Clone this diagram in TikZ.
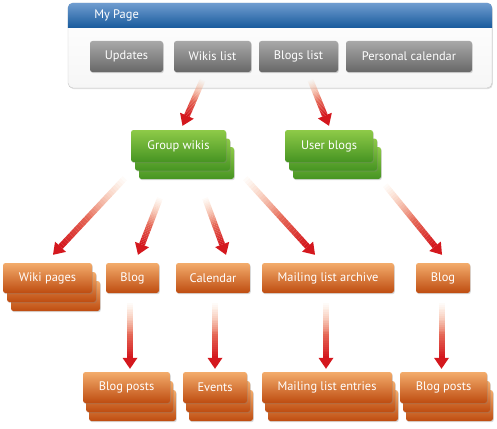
\documentclass[tikz,border=0pt]{standalone}
\usepackage{fontspec}
\setmainfont{PT Sans}
\usetikzlibrary{arrows.meta, positioning, calc, shadows}

\definecolor{headtop}{RGB}{112,157,208}
\definecolor{headbot}{RGB}{24,90,156}
\definecolor{graytop}{RGB}{168,168,168}
\definecolor{graybot}{RGB}{104,104,104}
\definecolor{greentop}{RGB}{142,202,72}
\definecolor{greenbot}{RGB}{70,148,34}
\definecolor{orangetop}{RGB}{243,172,108}
\definecolor{orangebot}{RGB}{190,76,16}
\definecolor{arrowred}{RGB}{212,24,30}
\definecolor{arrowpeach}{RGB}{246,180,140}

\tikzset{
  box/.style={rounded corners=2.5pt, minimum height=31pt, inner sep=0pt, text=white,
    font=\fontsize{12.4}{14}\selectfont,
    drop shadow={opacity=0.3, shadow xshift=0.8pt, shadow yshift=-1.2pt}},
  graybtn/.style={box, top color=graytop, bottom color=graybot},
  greenbox/.style={box, minimum height=32pt, top color=greentop, bottom color=greenbot},
  orangebox/.style={box, minimum height=30pt, top color=orangetop, bottom color=orangebot},
  panel/.style={draw=gray!45, rounded corners=5pt, top color=white, bottom color=gray!7,
    drop shadow={opacity=0.25, shadow xshift=0.8pt, shadow yshift=-1.2pt}}
}

% faded arrow: light at the start, red head at the end
\newcommand{\fadearrow}[2]{%
  \coordinate (fa-end) at ($(#2)!11pt!(#1)$);
  \foreach \i in {0,...,29}{%
    \pgfmathsetmacro{\mixp}{100*(\i/29)^1.3}
    \pgfmathsetmacro{\opac}{min(1,0.06+1.6*\i/29)}
    \draw[line width=6pt, draw=arrowred!\mixp!arrowpeach, draw opacity=\opac]
      ($(#1)!\i/30!(fa-end)$) -- ($(#1)!\i/30+1/30!(fa-end)$);
  }
  \fill[arrowred] (#2) -- ($(fa-end)!7.5pt!90:(#2)$) -- ($(fa-end)!7.5pt!-90:(#2)$) -- cycle;
}

\begin{document}
\begin{tikzpicture}[x=1pt, y=-1pt]
    \useasboundingbox (0,0) rectangle (497,428);

    % My Page panel
    \node[panel, minimum width=424pt, minimum height=85pt] (page) at (280,45.5) {};
    \shade[top color=headtop, bottom color=headbot]
        ($(page.north west)+(0,25)$) [rounded corners=5pt] -- (page.north west)
        -- (page.north east) [sharp corners] -- ($(page.north east)+(0,25)$) -- cycle;
    \node[anchor=west, text=white, font=\fontsize{12.4}{14}\selectfont] (title)
        at ($(page.north west)+(23,12.5)$) {My Page};

    % Buttons
    \node[graybtn, minimum width=73pt] (updates) at (126.5,56.5) {Updates};
    \node[graybtn, minimum width=77pt] (wikis) at (212.5,56.5) {Wikis list};
    \node[graybtn, minimum width=79pt] (blogs) at (298.5,56.5) {Blogs list};
    \node[graybtn, minimum width=126pt] (pcal) at (409,56.5) {Personal calendar};

    % Green stacks
    \foreach \k in {2,1} {
        \node[greenbox, minimum width=95pt] (gwikis\k) at ($(178.5,146)+(4*\k,8.5*\k)$) {};
        \node[greenbox, minimum width=88pt] (ublogs\k) at ($(329,146)+(4*\k,8.5*\k)$) {};
    }
    \node[greenbox, minimum width=95pt] (gwikis) at (178.5,146) {Group wikis};
    \node[greenbox, minimum width=88pt] (ublogs) at (329,146) {User blogs};

    % Orange row
    \foreach \k in {2,1} {
        \node[orangebox, minimum width=89pt] (wpages\k) at ($(47.5,278)+(4*\k,9*\k)$) {};
    }
    \node[orangebox, minimum width=89pt] (wpages) at (47.5,278) {Wiki pages};
    \node[orangebox, minimum width=53pt] (blog) at (132.5,278) {Blog};
    \node[orangebox, minimum width=74pt] (calendar) at (213,278) {Calendar};
    \node[orangebox, minimum width=132pt] (archive) at (328,278) {Mailing list archive};
    \node[orangebox, minimum width=54pt] (ublog) at (443,278) {Blog};

    % Bottom row
    \foreach \k in {2,1} {
        \node[orangebox, minimum height=31pt, minimum width=87pt] (posts\k) at ($(126.5,387.5)+(3*\k,9*\k)$) {};
        \node[orangebox, minimum height=31pt, minimum width=64pt] (events\k) at ($(215,387.5)+(3*\k,9*\k)$) {};
        \node[orangebox, minimum height=31pt, minimum width=130pt] (entries\k) at ($(327,387.5)+(3*\k,9*\k)$) {};
        \node[orangebox, minimum height=31pt, minimum width=87pt] (uposts\k) at ($(443.5,387.5)+(3*\k,9*\k)$) {};
    }
    \node[orangebox, minimum height=31pt, minimum width=87pt] (posts) at (126.5,387.5) {Blog posts};
    \node[orangebox, minimum height=31pt, minimum width=64pt] (events) at (215,387.5) {Events};
    \node[orangebox, minimum height=31pt, minimum width=130pt] (entries) at (327,387.5) {Mailing list entries};
    \node[orangebox, minimum height=31pt, minimum width=87pt] (uposts) at (443.5,387.5) {Blog posts};

    % Arrow ends
    \coordinate (w-from) at ($(wikis.south)+(-10,8)$);
    \coordinate (w-to) at ($(gwikis.north)+(4,-4)$);
    \coordinate (b-from) at ($(blogs.south)+(12,8)$);
    \coordinate (b-to) at ($(ublogs.north)+(0,-4)$);
    \coordinate (g1-from) at ($(gwikis.south west)+(-6,16)$);
    \coordinate (g1-to) at ($(wpages.north)+(5.5,-8)$);
    \coordinate (g2-from) at ($(gwikis.south)+(-18.5,36)$);
    \coordinate (g2-to) at ($(blog.north)+(5.5,-8)$);
    \coordinate (g3-from) at ($(gwikis.south)+(26.5,36)$);
    \coordinate (g3-to) at ($(calendar.north)+(13,-8)$);
    \coordinate (g4-from) at ($(gwikis.south east)+(19,16)$);
    \coordinate (g4-to) at ($(archive.north)+(-13,-8)$);
    \coordinate (u-from) at ($(ublogs.south east)+(12,23)$);
    \coordinate (u-to) at ($(ublog.north)+(-1,-8)$);
    \coordinate (v1-from) at ($(blog.south)+(-2.5,10)$);
    \coordinate (v1-to) at ($(v1-from |- posts.north)+(0,-3)$);
    \coordinate (v2-from) at ($(calendar.south)+(2,10)$);
    \coordinate (v2-to) at ($(v2-from |- events.north)+(0,-3)$);
    \coordinate (v3-from) at ($(archive.south)+(-2,10)$);
    \coordinate (v3-to) at ($(v3-from |- entries.north)+(0,-3)$);
    \coordinate (v4-from) at ($(ublog.south)+(-1.5,10)$);
    \coordinate (v4-to) at ($(v4-from |- uposts.north)+(0,-3)$);

    % Arrows
    \fadearrow{w-from}{w-to}
    \fadearrow{b-from}{b-to}
    \fadearrow{g1-from}{g1-to}
    \fadearrow{g2-from}{g2-to}
    \fadearrow{g3-from}{g3-to}
    \fadearrow{g4-from}{g4-to}
    \fadearrow{u-from}{u-to}
    \fadearrow{v1-from}{v1-to}
    \fadearrow{v2-from}{v2-to}
    \fadearrow{v3-from}{v3-to}
    \fadearrow{v4-from}{v4-to}
\end{tikzpicture}
\end{document}
